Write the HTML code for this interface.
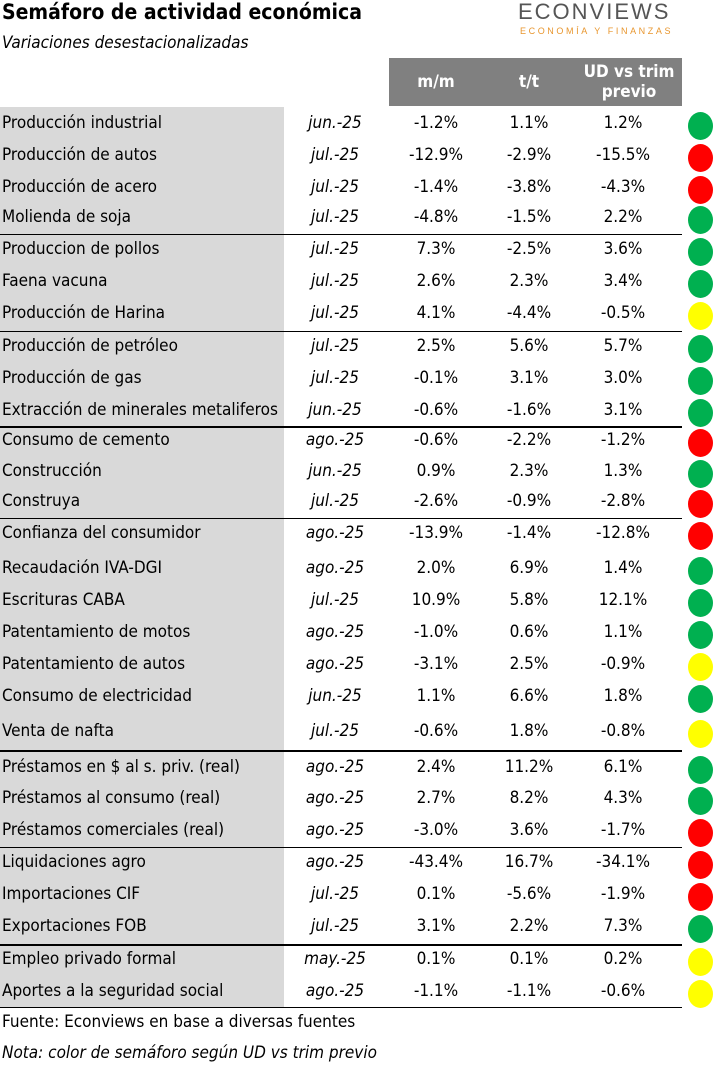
<!DOCTYPE html>
<html><head><meta charset="utf-8">
<style>
body{margin:0;width:728px;height:1065px;background:#fff;position:relative;overflow:hidden;font-family:"DejaVu Sans","Liberation Sans",sans-serif;font-stretch:condensed;color:#000}
.a{position:absolute;white-space:nowrap}
.c{transform:translateX(-50%)}
.line{position:absolute;left:0;width:682px;background:#000}
.dot{position:absolute;width:25px;height:28px;border-radius:50%}
</style></head><body>
<div class="a" style="left:2px;top:0px;font-size:21px;font-weight:bold">Semáforo de actividad económica</div>
<div class="a" style="left:2px;top:33px;font-size:17px;font-style:italic">Variaciones desestacionalizadas</div>
<div class="a" style="left:518px;top:-1px;font-size:22px;letter-spacing:2px;color:#555;font-family:'Liberation Sans',sans-serif">ECONVIEWS</div>
<div class="a" style="left:520px;top:26px;font-size:9px;letter-spacing:2.6px;color:#e8962e;font-family:'Liberation Sans',sans-serif">ECONOMÍA Y FINANZAS</div>
<div class="a" style="left:389px;top:58px;width:293px;height:48px;background:#808080"></div>
<div class="a c" style="left:436px;top:72px;color:#fff;font-weight:bold;font-size:17px">m/m</div>
<div class="a c" style="left:529px;top:72px;color:#fff;font-weight:bold;font-size:17px">t/t</div>
<div class="a c" style="left:629px;top:62px;color:#fff;font-weight:bold;font-size:17px;text-align:center;line-height:20px">UD vs trim<br>previo</div>
<div class="a" style="left:0;top:107px;width:284px;height:900px;background:#d9d9d9"></div>
<div id="rows"></div>
<div class="a" style="left:2px;top:1012px;font-size:17px">Fuente: Econviews en base a diversas fuentes</div>
<div class="a" style="left:2px;top:1043px;font-size:17px;font-style:italic">Nota: color de semáforo según UD vs trim previo</div>
<script>
const labels=["Producción industrial","Producción de autos","Producción de acero","Molienda de soja","Produccion de pollos","Faena vacuna","Producción de Harina","Producción de petróleo","Producción de gas","Extracción de minerales metaliferos","Consumo de cemento","Construcción","Construya","Confianza del consumidor","Recaudación IVA-DGI","Escrituras CABA","Patentamiento de motos","Patentamiento de autos","Consumo de electricidad","Venta de nafta","Préstamos en $ al s. priv. (real)","Préstamos al consumo (real)","Préstamos comerciales (real)","Liquidaciones agro","Importaciones CIF","Exportaciones FOB","Empleo privado formal","Aportes a la seguridad social"];
const dates=["jun.-25","jul.-25","jul.-25","jul.-25","jul.-25","jul.-25","jul.-25","jul.-25","jul.-25","jun.-25","ago.-25","jun.-25","jul.-25","ago.-25","ago.-25","jul.-25","ago.-25","ago.-25","jun.-25","jul.-25","ago.-25","ago.-25","ago.-25","ago.-25","jul.-25","jul.-25","may.-25","ago.-25"];
const mm=["-1.2%","-12.9%","-1.4%","-4.8%","7.3%","2.6%","4.1%","2.5%","-0.1%","-0.6%","-0.6%","0.9%","-2.6%","-13.9%","2.0%","10.9%","-1.0%","-3.1%","1.1%","-0.6%","2.4%","2.7%","-3.0%","-43.4%","0.1%","3.1%","0.1%","-1.1%"];
const tt=["1.1%","-2.9%","-3.8%","-1.5%","-2.5%","2.3%","-4.4%","5.6%","3.1%","-1.6%","-2.2%","2.3%","-0.9%","-1.4%","6.9%","5.8%","0.6%","2.5%","6.6%","1.8%","11.2%","8.2%","3.6%","16.7%","-5.6%","2.2%","0.1%","-1.1%"];
const ud=["1.2%","-15.5%","-4.3%","2.2%","3.6%","3.4%","-0.5%","5.7%","3.0%","3.1%","-1.2%","1.3%","-2.8%","-12.8%","1.4%","12.1%","1.1%","-0.9%","1.8%","-0.8%","6.1%","4.3%","-1.7%","-34.1%","-1.9%","7.3%","0.2%","-0.6%"];
const lights=["g","r","r","g","g","g","y","g","g","g","r","g","r","r","g","g","g","y","g","y","g","g","r","r","r","g","y","y"];
const ys=[124,156,188,218,250,282,314,347,379,411,441,472,502,534,569,601,633,665,697,732,768,799,831,863,895,927,960,992];
const sepAfter=[3,6,9,12,19,22,25,27];
const sepW=[1,1,2,1,2,1,2,1];
const col={g:"#00b050",r:"#ff0000",y:"#ffff00"};
const root=document.getElementById('rows');
function add(txt,x,y,center,italic,name){
  const d=document.createElement('div');
  d.className='a'+(center?' c':'');
  
  
  d.style.left=x+'px';d.style.top=(y-11)+'px';d.style.fontSize='17px';
  if(italic)d.style.fontStyle='italic';
  d.textContent=txt;root.appendChild(d);
}
labels.forEach((l,i)=>{
  const y=ys[i];
  add(l,2,y,false,false,'row-label');
  add(dates[i],335,y,true,true,'row-date');
  add(mm[i],436,y,true,false,'row-mm');
  add(tt[i],529,y,true,false,'row-tt');
  add(ud[i],623,y,true,false,'row-ud');
  const c=document.createElement('div');
  c.className='dot';
  
  
  c.style.left='688px';c.style.top=(y-12)+'px';c.style.background=col[lights[i]];
  root.appendChild(c);
});
sepAfter.forEach((k,j)=>{
  const y=k<27?Math.round((ys[k]+ys[k+1])/2):1007;
  const ln=document.createElement('div');
  ln.className='line';
  
  
  ln.style.top=y+'px';ln.style.height=sepW[j]+'px';
  root.appendChild(ln);
});
</script>
</body></html>
